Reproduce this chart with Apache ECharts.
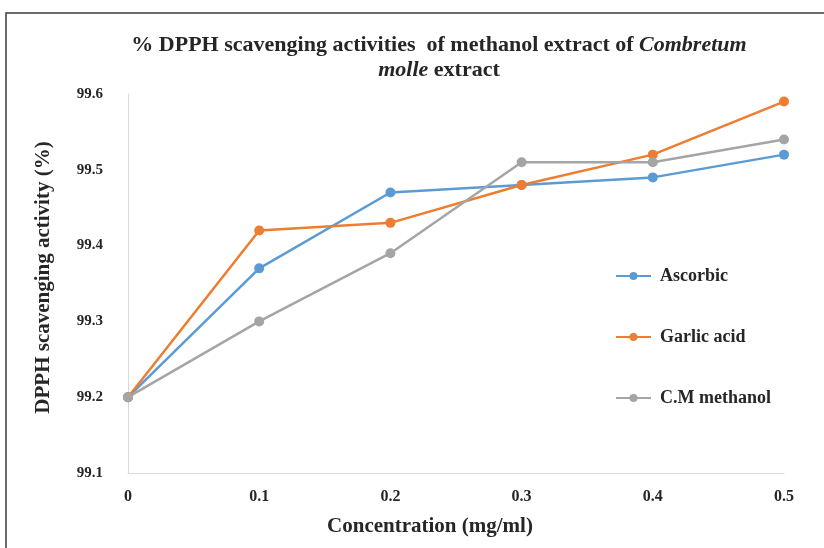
<!DOCTYPE html>
<html>
<head>
<meta charset="utf-8">
<script src="https://cdn.jsdelivr.net/npm/echarts@6/dist/echarts.min.js"></script>
<style>
  html, body { margin: 0; padding: 0; background: #fff; }
  #main { width: 824px; height: 548px; }
</style>
</head>
<body>
<div id="main"></div>
<script>
// data
const concentrations = ['0', '0.1', '0.2', '0.3', '0.4', '0.5'];
const ascorbic = [99.2, 99.37, 99.47, 99.48, 99.49, 99.52];
const garlicAcid = [99.2, 99.42, 99.43, 99.48, 99.52, 99.59];
const cmMethanol = [99.2, 99.30, 99.39, 99.51, 99.51, 99.54];

const font = '"Liberation Serif", "Times New Roman", serif';
const ink = '#262626';

let myChart = echarts.init(document.getElementById('main'));

function line(name, data, color) {
    return {
        name: name,
        type: 'line',
        data: data,
        symbol: 'circle',
        symbolSize: 10,
        lineStyle: { color: color, width: 2.5 },
        itemStyle: { color: color }
    };
}

myChart.setOption({
    animation: false,
    textStyle: { fontFamily: font },
    graphic: [{
        type: 'rect',
        shape: { x: 6, y: 13, width: 900, height: 600 },
        style: { fill: 'none', stroke: '#3a3a3a', lineWidth: 1.5 }
    }],
    title: {
        text: '% DPPH scavenging activities  of methanol extract of {i|Combretum}\n{i|molle} extract',
        left: 434,
        textAlign: 'center',
        top: 28,
        textStyle: {
            fontFamily: font,
            fontSize: 22,
            fontWeight: 'bold',
            color: ink,
            lineHeight: 25,
            rich: {
                i: { fontFamily: font, fontSize: 22, fontWeight: 'bold', fontStyle: 'italic', color: ink, lineHeight: 25 }
            }
        }
    },
    legend: {
        orient: 'vertical',
        left: 610,
        top: 262,
        itemGap: 43,
        itemWidth: 35,
        itemHeight: 10,
        data: ['Ascorbic', 'Garlic acid', 'C.M methanol'],
        textStyle: { fontFamily: font, fontSize: 18, fontWeight: 'bold', color: ink, padding: [0, 0, 0, 4] }
    },
    grid: { left: 128, right: 40, top: 94, bottom: 75 },
    xAxis: {
        type: 'category', //类目轴
        boundaryGap: false,
        data: concentrations,
        name: 'Concentration (mg/ml)',
        nameLocation: 'middle',
        nameGap: 43,
        nameTextStyle: { fontFamily: font, fontSize: 21, fontWeight: 'bold', color: ink, padding: [0, 52, 0, 0] },
        axisLine: { lineStyle: { color: '#d9d9d9', width: 1 } },
        axisTick: { show: false },
        axisLabel: { fontFamily: font, fontSize: 16, fontWeight: 'bold', color: ink, margin: 16 }
    },
    yAxis: {
        type: 'value', //数值轴
        min: 99.1,
        max: 99.6,
        interval: 0.1,
        name: 'DPPH scavenging activity (%)',
        nameLocation: 'middle',
        nameGap: 74,
        nameTextStyle: { fontFamily: font, fontSize: 21, fontWeight: 'bold', color: ink, padding: [0, 0, 0, 12] },
        axisLine: { show: true, lineStyle: { color: '#d9d9d9', width: 1 } },
        axisTick: { show: false },
        splitLine: { show: false },
        axisLabel: {
            fontFamily: font, fontSize: 15, fontWeight: 'bold', color: ink, margin: 25,
            formatter: v => v.toFixed(1)
        }
    },
    series: [
        line('Ascorbic', ascorbic, '#5b9bd5'),
        line('Garlic acid', garlicAcid, '#ed7d31'),
        line('C.M methanol', cmMethanol, '#a5a5a5')
    ]
});
</script>
</body>
</html>
